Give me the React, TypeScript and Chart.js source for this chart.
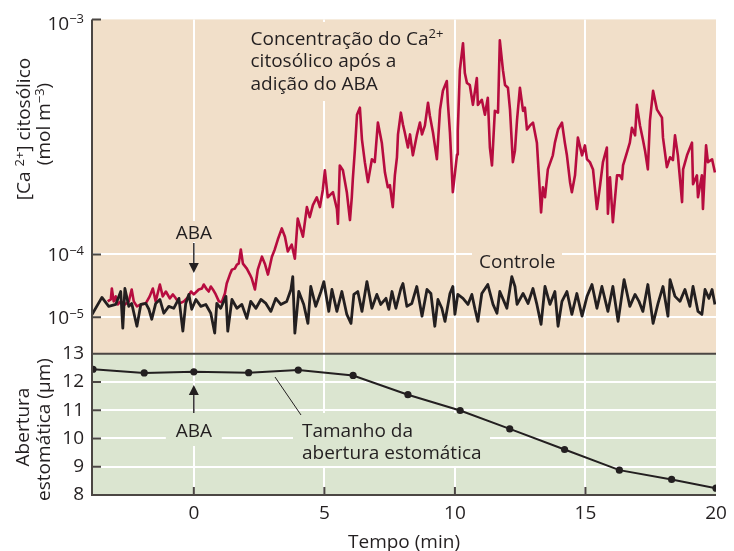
import React, { useEffect, useRef } from 'react';
import { Chart, registerables, LinearScale } from 'chart.js';

// ---------------- data ----------------
const X_TICKS = [0, 5, 10, 15, 20];
const CA_TICKS = [1e-5, 1e-4, 1e-3]; // mol m^-3
const AP_TICKS = [8, 9, 10, 11, 12, 13]; // µm

// Control cytosolic Ca2+ trace: [time (min), concentration in units of 1e-5 mol m^-3]
const CONTROL_SERIES: [number, number][] = [
  [-3.9, 1.11], [-3.52, 2.07], [-3.26, 1.49], [-2.99, 1.6], [-2.8, 2.57], [-2.72, 0.67], [-2.64, 2.87], [-2.49, 1.49], [-2.38, 1.66], [-2.18, 0.72],
  [-2.03, 1.6], [-1.84, 1.66], [-1.72, 1.34], [-1.61, 0.93], [-1.46, 1.66], [-1.3, 1.92], [-1.15, 1.16], [-0.96, 1.49], [-0.77, 1.39], [-0.57, 2.0],
  [-0.42, 0.6], [-0.31, 1.66], [-0.19, 2.31], [-0.08, 1.34], [0.08, 1.92], [0.27, 1.49], [0.46, 1.6], [0.65, 1.16], [0.8, 0.56], [0.88, 1.66],
  [1.03, 1.39], [1.23, 2.15], [1.3, 0.6], [1.46, 1.92], [1.65, 1.39], [1.84, 1.6], [2.03, 0.96], [2.18, 1.79], [2.38, 1.39], [2.57, 1.92],
  [2.76, 1.66], [2.95, 1.24], [3.14, 2.0], [3.33, 1.6], [3.56, 1.79], [3.72, 2.77], [3.79, 4.44], [3.87, 0.56], [4.02, 2.57], [4.21, 1.6],
  [4.37, 0.8], [4.48, 3.09], [4.67, 1.49], [4.87, 2.57], [4.98, 3.7], [5.17, 1.24], [5.29, 2.77], [5.48, 1.24], [5.67, 2.57], [5.86, 1.11],
  [6.02, 0.8], [6.13, 2.31], [6.28, 2.57], [6.44, 1.24], [6.63, 3.7], [6.82, 1.39], [7.01, 2.31], [7.16, 1.6], [7.36, 2.0], [7.47, 1.34],
  [7.59, 2.57], [7.74, 1.39], [7.93, 2.87], [8.01, 3.44], [8.16, 1.49], [8.35, 1.66], [8.54, 3.09], [8.74, 1.04], [8.93, 2.77], [9.08, 2.39],
  [9.23, 0.72], [9.35, 1.92], [9.5, 1.39], [9.62, 0.86], [9.81, 2.39], [9.92, 3.09], [10.0, 1.11], [10.11, 2.31], [10.31, 2.0], [10.5, 1.6],
  [10.65, 2.31], [10.77, 1.34], [10.88, 0.86], [11.03, 2.39], [11.26, 3.32], [11.46, 1.6], [11.61, 1.16], [11.72, 2.57], [11.88, 1.79], [11.99, 1.39],
  [12.18, 4.44], [12.3, 3.09], [12.38, 1.6], [12.61, 2.39], [12.8, 1.66], [12.99, 2.87], [13.14, 1.6], [13.3, 0.77], [13.45, 3.09], [13.64, 1.6],
  [13.83, 2.57], [13.95, 0.72], [14.1, 1.79], [14.29, 2.57], [14.48, 1.11], [14.67, 2.39], [14.87, 1.04], [15.06, 2.15], [15.25, 3.32], [15.44, 1.39],
  [15.63, 3.09], [15.86, 1.24], [16.05, 3.09], [16.25, 0.86], [16.48, 3.98], [16.7, 1.49], [16.9, 2.31], [17.05, 1.79], [17.2, 1.24], [17.39, 3.32],
  [17.59, 0.8], [17.78, 1.66], [17.97, 3.09], [18.16, 1.04], [18.24, 3.98], [18.43, 2.15], [18.62, 1.79], [18.81, 2.77], [19.0, 1.49], [19.12, 3.09],
  [19.31, 1.24], [19.46, 1.11], [19.58, 2.77], [19.73, 2.0], [19.85, 2.77], [19.96, 1.6],
];

// Cytosolic Ca2+ after ABA addition: [time (min), concentration in units of 1e-5 mol m^-3]
const ABA_SERIES: [number, number][] = [
  [-3.3, 1.79], [-3.18, 1.92], [-3.14, 2.87], [-3.07, 1.79], [-2.99, 2.15], [-2.91, 1.6], [-2.8, 1.79], [-2.64, 1.6], [-2.49, 1.79], [-2.38, 2.77],
  [-2.3, 1.79], [-2.18, 1.49], [-2.03, 1.6], [-1.84, 1.66], [-1.69, 2.15], [-1.57, 2.87], [-1.46, 1.79], [-1.3, 3.32], [-1.19, 2.15], [-1.07, 2.57],
  [-0.92, 2.0], [-0.8, 2.31], [-0.69, 2.0], [-0.54, 1.66], [-0.38, 1.79], [-0.23, 2.07], [-0.11, 2.57], [0.0, 2.31], [0.11, 2.57], [0.19, 2.77],
  [0.31, 2.87], [0.38, 3.32], [0.5, 2.77], [0.57, 2.57], [0.65, 3.09], [0.73, 2.77], [0.84, 2.31], [0.96, 1.79], [1.07, 1.73], [1.19, 2.39],
  [1.26, 3.44], [1.38, 4.78], [1.46, 5.73], [1.57, 5.94], [1.65, 6.88], [1.72, 7.13], [1.8, 10.5], [1.88, 7.13], [2.03, 5.94], [2.15, 4.78],
  [2.22, 4.13], [2.34, 2.77], [2.45, 5.73], [2.61, 9.2], [2.72, 7.13], [2.84, 4.78], [2.99, 9.2], [3.1, 10.5], [3.22, 11.6], [3.37, 12.9],
  [3.49, 11.9], [3.6, 10.3], [3.75, 11.0], [3.87, 8.55], [3.98, 14.2], [4.18, 11.9], [4.33, 15.9], [4.44, 14.4], [4.56, 16.2], [4.71, 17.5],
  [4.83, 15.9], [4.94, 18.8], [5.02, 22.8], [5.13, 17.5], [5.33, 18.4], [5.48, 15.6], [5.52, 13.5], [5.59, 23.9], [5.71, 22.8], [5.86, 18.4],
  [5.98, 14.0], [6.05, 17.5], [6.09, 20.9], [6.17, 28.0], [6.25, 39.3], [6.36, 42.1], [6.44, 30.8], [6.55, 24.7], [6.67, 20.3], [6.82, 25.4],
  [6.93, 24.7], [7.05, 36.4], [7.2, 29.9], [7.32, 22.3], [7.43, 19.3], [7.51, 19.7], [7.62, 15.9], [7.7, 21.7], [7.78, 25.9], [7.82, 32.4],
  [7.93, 40.1], [8.01, 35.7], [8.08, 33.0], [8.2, 28.5], [8.28, 32.4], [8.39, 26.4], [8.54, 32.1], [8.66, 36.4], [8.74, 32.4], [8.85, 35.3],
  [8.97, 44.2], [9.04, 38.9], [9.16, 33.0], [9.31, 25.4], [9.43, 41.3], [9.54, 49.7], [9.69, 54.7], [9.73, 44.2], [9.81, 33.0], [9.92, 18.4],
  [10.08, 26.6], [10.11, 33.6], [10.19, 60.8], [10.31, 79.2], [10.38, 59.1], [10.46, 53.7], [10.57, 52.6], [10.69, 43.3], [10.84, 56.3], [10.88, 43.3],
  [11.03, 45.5], [11.15, 39.3], [11.26, 46.4], [11.34, 28.5], [11.42, 23.9], [11.53, 40.8], [11.65, 40.1], [11.72, 81.5], [11.84, 60.8], [11.92, 52.6],
  [12.03, 51.2], [12.11, 41.3], [12.22, 24.7], [12.3, 27.7], [12.38, 37.4], [12.49, 51.2], [12.61, 40.8], [12.68, 42.1], [12.76, 34.0], [12.87, 35.3],
  [12.99, 36.4], [13.14, 29.9], [13.22, 21.3], [13.3, 15.1], [13.37, 19.3], [13.45, 17.5], [13.56, 23.0], [13.75, 26.4], [13.83, 29.9], [13.95, 34.0],
  [14.1, 36.4], [14.21, 29.9], [14.29, 26.4], [14.41, 20.3], [14.48, 18.4], [14.6, 21.7], [14.71, 31.4], [14.87, 26.4], [14.98, 29.1], [15.06, 25.4],
  [15.17, 24.7], [15.29, 23.0], [15.44, 15.6], [15.56, 19.7], [15.67, 24.7], [15.82, 28.5], [15.86, 14.9], [15.94, 21.3], [16.05, 13.7], [16.21, 21.7],
  [16.32, 21.7], [16.4, 20.9], [16.44, 23.9], [16.59, 27.2], [16.7, 29.9], [16.78, 34.6], [16.9, 32.1], [16.97, 43.3], [17.09, 35.3], [17.2, 30.8],
  [17.28, 27.7], [17.39, 23.0], [17.47, 37.1], [17.59, 49.7], [17.74, 41.3], [17.93, 38.2], [17.97, 31.4], [18.12, 23.5], [18.24, 25.9], [18.35, 25.2],
  [18.43, 32.1], [18.54, 26.4], [18.7, 16.7], [18.74, 23.0], [18.89, 26.4], [19.08, 29.9], [19.12, 19.9], [19.27, 21.7], [19.31, 17.5], [19.46, 21.7],
  [19.5, 15.6], [19.62, 29.1], [19.69, 24.7], [19.85, 25.4], [19.96, 22.3],
];

// Stomatal aperture
const APERTURE_TIME = [-3.86, -1.9, 0, 2.1, 4.0, 6.1, 8.2, 10.2, 12.1, 14.2, 16.3, 18.3, 20];
const APERTURE_UM = [12.45, 12.32, 12.36, 12.33, 12.42, 12.23, 11.55, 10.99, 10.34, 9.61, 8.88, 8.55, 8.24];

// ---------------- styling ----------------
const FONT = "'Open Sans', 'Noto Sans', 'DejaVu Sans', sans-serif";
const INK = '#231f20';
const AXIS = '#4b4643';
const BEIGE = '#f1dfc9';
const GREEN = '#dbe5d0';
const RED = '#b70c3f';
const FS = 19;
const SUP_SCALE = 0.7;
const SUP_RAISE = 0.34;

// A log axis whose decades have different lengths (as drawn in the original figure)
class BrokenLogScale extends LinearScale {
  static id = 'brokenLog';
  determineDataLimits() {
    const o: any = this.options;
    (this as any).min = o.min;
    (this as any).max = o.max;
  }
  buildTicks() {
    const o: any = this.options;
    return (o.tickValues || []).map((v: number) => ({ value: v }));
  }
  _frac(value: number) {
    const anchors: [number, number][] = (this.options as any).anchors;
    const l = Math.log10(value);
    let i = 0;
    while (i < anchors.length - 2 && l < anchors[i + 1][0]) i++;
    const [l0, f0] = anchors[i];
    const [l1, f1] = anchors[i + 1];
    return f0 + ((l - l0) / (l1 - l0)) * (f1 - f0);
  }
  getPixelForValue(value: number) {
    if (value == null || !(value > 0)) return NaN;
    const s: any = this;
    return s.top + this._frac(value) * (s.bottom - s.top);
  }
  getValueForPixel(pixel: number) {
    const s: any = this;
    const f = (pixel - s.top) / (s.bottom - s.top);
    const anchors: [number, number][] = (this.options as any).anchors;
    let i = 0;
    while (i < anchors.length - 2 && f > anchors[i + 1][1]) i++;
    const [l0, f0] = anchors[i];
    const [l1, f1] = anchors[i + 1];
    return Math.pow(10, l0 + ((f - f0) / (f1 - f0)) * (l1 - l0));
  }
}

Chart.register(...registerables, BrokenLogScale);

type Part = [string, boolean];

function partsWidth(ctx: CanvasRenderingContext2D, parts: Part[], size: number) {
  let w = 0;
  for (const [t, sup] of parts) {
    ctx.font = `${sup ? Math.round(size * SUP_SCALE) : size}px ${FONT}`;
    w += ctx.measureText(t).width;
  }
  return w;
}

function drawParts(ctx: CanvasRenderingContext2D, parts: Part[], x: number, y: number, size: number, align: 'left' | 'center' | 'right') {
  const w = partsWidth(ctx, parts, size);
  let cx = align === 'left' ? x : align === 'center' ? x - w / 2 : x - w;
  ctx.textAlign = 'left';
  ctx.textBaseline = 'alphabetic';
  for (const [t, sup] of parts) {
    const s = sup ? Math.round(size * SUP_SCALE) : size;
    ctx.font = `${s}px ${FONT}`;
    ctx.fillText(t, cx, sup ? y - size * SUP_RAISE : y);
    cx += ctx.measureText(t).width;
  }
}

function drawRotated(ctx: CanvasRenderingContext2D, parts: Part[], baseX: number, centerY: number, size: number) {
  ctx.save();
  ctx.translate(baseX, centerY);
  ctx.rotate(-Math.PI / 2);
  drawParts(ctx, parts, 0, 0, size, 'center');
  ctx.restore();
}

function arrow(ctx: CanvasRenderingContext2D, x: number, y0: number, y1: number) {
  const dir = y1 > y0 ? 1 : -1;
  ctx.strokeStyle = INK;
  ctx.fillStyle = INK;
  ctx.lineWidth = 1.4;
  ctx.beginPath();
  ctx.moveTo(x, y0);
  ctx.lineTo(x, y1 - dir * 8);
  ctx.stroke();
  ctx.beginPath();
  ctx.moveTo(x, y1);
  ctx.lineTo(x - 5, y1 - dir * 10);
  ctx.lineTo(x + 5, y1 - dir * 10);
  ctx.closePath();
  ctx.fill();
}

const decor = {
  id: 'decor',
  beforeDraw(chart: any) {
    const { ctx, chartArea: a } = chart;
    const top = chart.scales.yCa;
    const bot = chart.scales.yAp;
    ctx.save();
    ctx.fillStyle = BEIGE;
    ctx.fillRect(a.left, top.top, a.right - a.left, top.bottom - top.top);
    ctx.fillStyle = GREEN;
    ctx.fillRect(a.left, bot.top, a.right - a.left, bot.bottom - bot.top);
    ctx.restore();
  },
  beforeDatasetsDraw(chart: any) {
    const { ctx } = chart;
    const x0 = chart.scales.x.getPixelForValue(0);
    ctx.save();
    // masks behind labels (hide grid lines)
    ctx.fillStyle = BEIGE;
    ctx.fillRect(245, 22, 207, 79);
    ctx.fillRect(x0 - 22, 221, 44, 21);
    ctx.fillRect(472, 247, 90, 24);
    ctx.fillStyle = GREEN;
    ctx.fillRect(x0 - 28, 413, 56, 33);
    ctx.fillRect(293, 413, 197, 53);

    ctx.fillStyle = INK;
    drawParts(ctx, [['Concentração do Ca', false], ['2+', true]], 250.5, 44.5, FS, 'left');
    drawParts(ctx, [['citosólico após a', false]], 250.5, 67, FS, 'left');
    drawParts(ctx, [['adição do ABA', false]], 250.5, 89.5, FS, 'left');
    drawParts(ctx, [['ABA', false]], x0, 238.5, FS, 'center');
    arrow(ctx, x0, 243, 273);
    ctx.fillStyle = INK;
    drawParts(ctx, [['Controle', false]], 479, 267.5, FS, 'left');
    drawParts(ctx, [['ABA', false]], x0, 437, FS, 'center');
    arrow(ctx, x0, 413, 385);
    ctx.fillStyle = INK;
    drawParts(ctx, [['Tamanho da', false]], 302, 436.5, FS, 'left');
    drawParts(ctx, [['abertura estomática', false]], 302, 458.5, FS, 'left');
    ctx.strokeStyle = INK;
    ctx.lineWidth = 1;
    ctx.beginPath();
    ctx.moveTo(275, 377);
    ctx.lineTo(301, 415);
    ctx.stroke();
    ctx.restore();
  },
  afterDatasetsDraw(chart: any) {
    const { ctx, chartArea: a } = chart;
    const top = chart.scales.yCa;
    const bot = chart.scales.yAp;
    const xs = chart.scales.x;
    ctx.save();
    ctx.strokeStyle = AXIS;
    ctx.lineWidth = 2;
    ctx.beginPath();
    ctx.moveTo(a.left, bot.top);
    ctx.lineTo(a.right, bot.top);
    ctx.moveTo(a.left, top.top);
    ctx.lineTo(a.left, a.bottom + 1);
    ctx.moveTo(a.left - 1, a.bottom);
    ctx.lineTo(a.right, a.bottom);
    // inward tick marks
    for (const t of top.ticks) {
      const y = top.getPixelForValue(t.value);
      ctx.moveTo(a.left, y);
      ctx.lineTo(a.left + 9, y);
    }
    for (const t of bot.ticks) {
      const y = bot.getPixelForValue(t.value);
      ctx.moveTo(a.left, y);
      ctx.lineTo(a.left + 9, y);
    }
    for (const t of xs.ticks) {
      if (t.value >= 20) continue;
      const x = xs.getPixelForValue(t.value);
      ctx.moveTo(x, a.bottom);
      ctx.lineTo(x, a.bottom - 8);
    }
    ctx.stroke();

    // top axis tick labels 10^n
    ctx.fillStyle = INK;
    for (const t of top.ticks) {
      const y = top.getPixelForValue(t.value);
      const e = Math.round(Math.log10(t.value));
      drawParts(ctx, [['10', false], ['\u2212' + String(-e), true]], 84, Math.max(y + 7, top.top + 10.5), FS, 'right');
    }
    // axis titles
    drawRotated(ctx, [['[Ca ', false], ['2+', true], ['] citosólico', false]], 30, 129, FS);
    drawRotated(ctx, [['(mol m', false], ['\u22123', true], [')', false]], 50, 124, FS);
    drawRotated(ctx, [['Abertura', false]], 28.5, 427, FS);
    drawRotated(ctx, [['estomática (µm)', false]], 50, 429.5, FS);
    drawParts(ctx, [['Tempo (min)', false]], (a.left + a.right) / 2, 548, FS, 'center');
    ctx.restore();
  },
};

export default function App() {
  const ref = useRef<HTMLCanvasElement>(null);
  useEffect(() => {
    Chart.defaults.font.family = FONT;
    const chart = new Chart(ref.current as HTMLCanvasElement, {
      type: 'line',
      data: {
        datasets: [
          {
            label: 'Controle',
            data: CONTROL_SERIES.map(([t, v]) => ({ x: t, y: v * 1e-5 })),
            yAxisID: 'yCa',
            borderColor: INK,
            borderWidth: 2.8,
            pointRadius: 0,
            borderJoinStyle: 'round',
            order: 0,
          },
          {
            label: 'ABA',
            data: ABA_SERIES.map(([t, v]) => ({ x: t, y: v * 1e-5 })),
            yAxisID: 'yCa',
            borderColor: RED,
            borderWidth: 2.6,
            pointRadius: 0,
            borderJoinStyle: 'round',
            order: 1,
          },
          {
            label: 'Abertura',
            data: APERTURE_TIME.map((t, i) => ({ x: t, y: APERTURE_UM[i] })),
            yAxisID: 'yAp',
            borderColor: INK,
            backgroundColor: INK,
            borderWidth: 2,
            pointRadius: 3.6,
            pointBorderWidth: 0,
            order: 0,
          },
        ],
      } as any,
      options: {
        responsive: false,
        animation: false,
        devicePixelRatio: 1,
        events: [],
        layout: { padding: { top: 16, right: 18, left: 0, bottom: 0 } },
        plugins: { legend: { display: false }, tooltip: { enabled: false } },
        scales: {
          x: {
            type: 'linear',
            min: -3.9,
            max: 20,
            afterBuildTicks: (s: any) => {
              s.ticks = X_TICKS.map((v) => ({ value: v }));
            },
            afterFit: (s: any) => {
              s.height = 56;
            },
            border: { display: false },
            grid: {
              color: (c: any) => (c.tick && c.tick.value >= 20 ? 'rgba(0,0,0,0)' : '#ffffff'),
              lineWidth: 2,
              drawTicks: false,
            },
            ticks: { padding: 7, color: INK, font: { size: FS, family: FONT }, maxRotation: 0, autoSkip: false },
          },
          yAp: {
            type: 'linear',
            position: 'left',
            stack: 'panels',
            stackWeight: 142.3,
            min: 8,
            max: 13,
            afterBuildTicks: (s: any) => {
              s.ticks = AP_TICKS.map((v) => ({ value: v }));
            },
            afterFit: (s: any) => {
              s.width = 92;
            },
            border: { display: false },
            grid: {
              color: (c: any) => (c.tick && (c.tick.value === 8 || c.tick.value === 13) ? 'rgba(0,0,0,0)' : '#ffffff'),
              lineWidth: 2,
              drawTicks: false,
            },
            ticks: { padding: 8, color: INK, font: { size: FS, family: FONT }, autoSkip: false },
          },
          yCa: {
            type: 'brokenLog',
            position: 'left',
            stack: 'panels',
            stackWeight: 336.7,
            min: Math.pow(10, -5.58),
            max: 1e-3,
            tickValues: CA_TICKS,
            // [log10(value), fraction of panel height from top]
            anchors: [[-3, 0], [-4, 0.703], [-5, 0.891], [-5.58, 1]],
            afterFit: (s: any) => {
              s.width = 92;
            },
            border: { display: false },
            grid: {
              color: (c: any) => (c.tick && c.tick.value >= 1e-3 ? 'rgba(0,0,0,0)' : '#ffffff'),
              lineWidth: 2,
              drawTicks: false,
            },
            ticks: { display: false, callback: () => '' },
          },
        } as any,
      },
      plugins: [decor],
    } as any);
    return () => chart.destroy();
  }, []);
  return (
    <div style={{ position: 'absolute', left: 0, top: 0, width: 734, height: 551, background: '#fff' }}>
      <canvas ref={ref} width={734} height={551} style={{ display: 'block', width: 734, height: 551 }} />
    </div>
  );
}
